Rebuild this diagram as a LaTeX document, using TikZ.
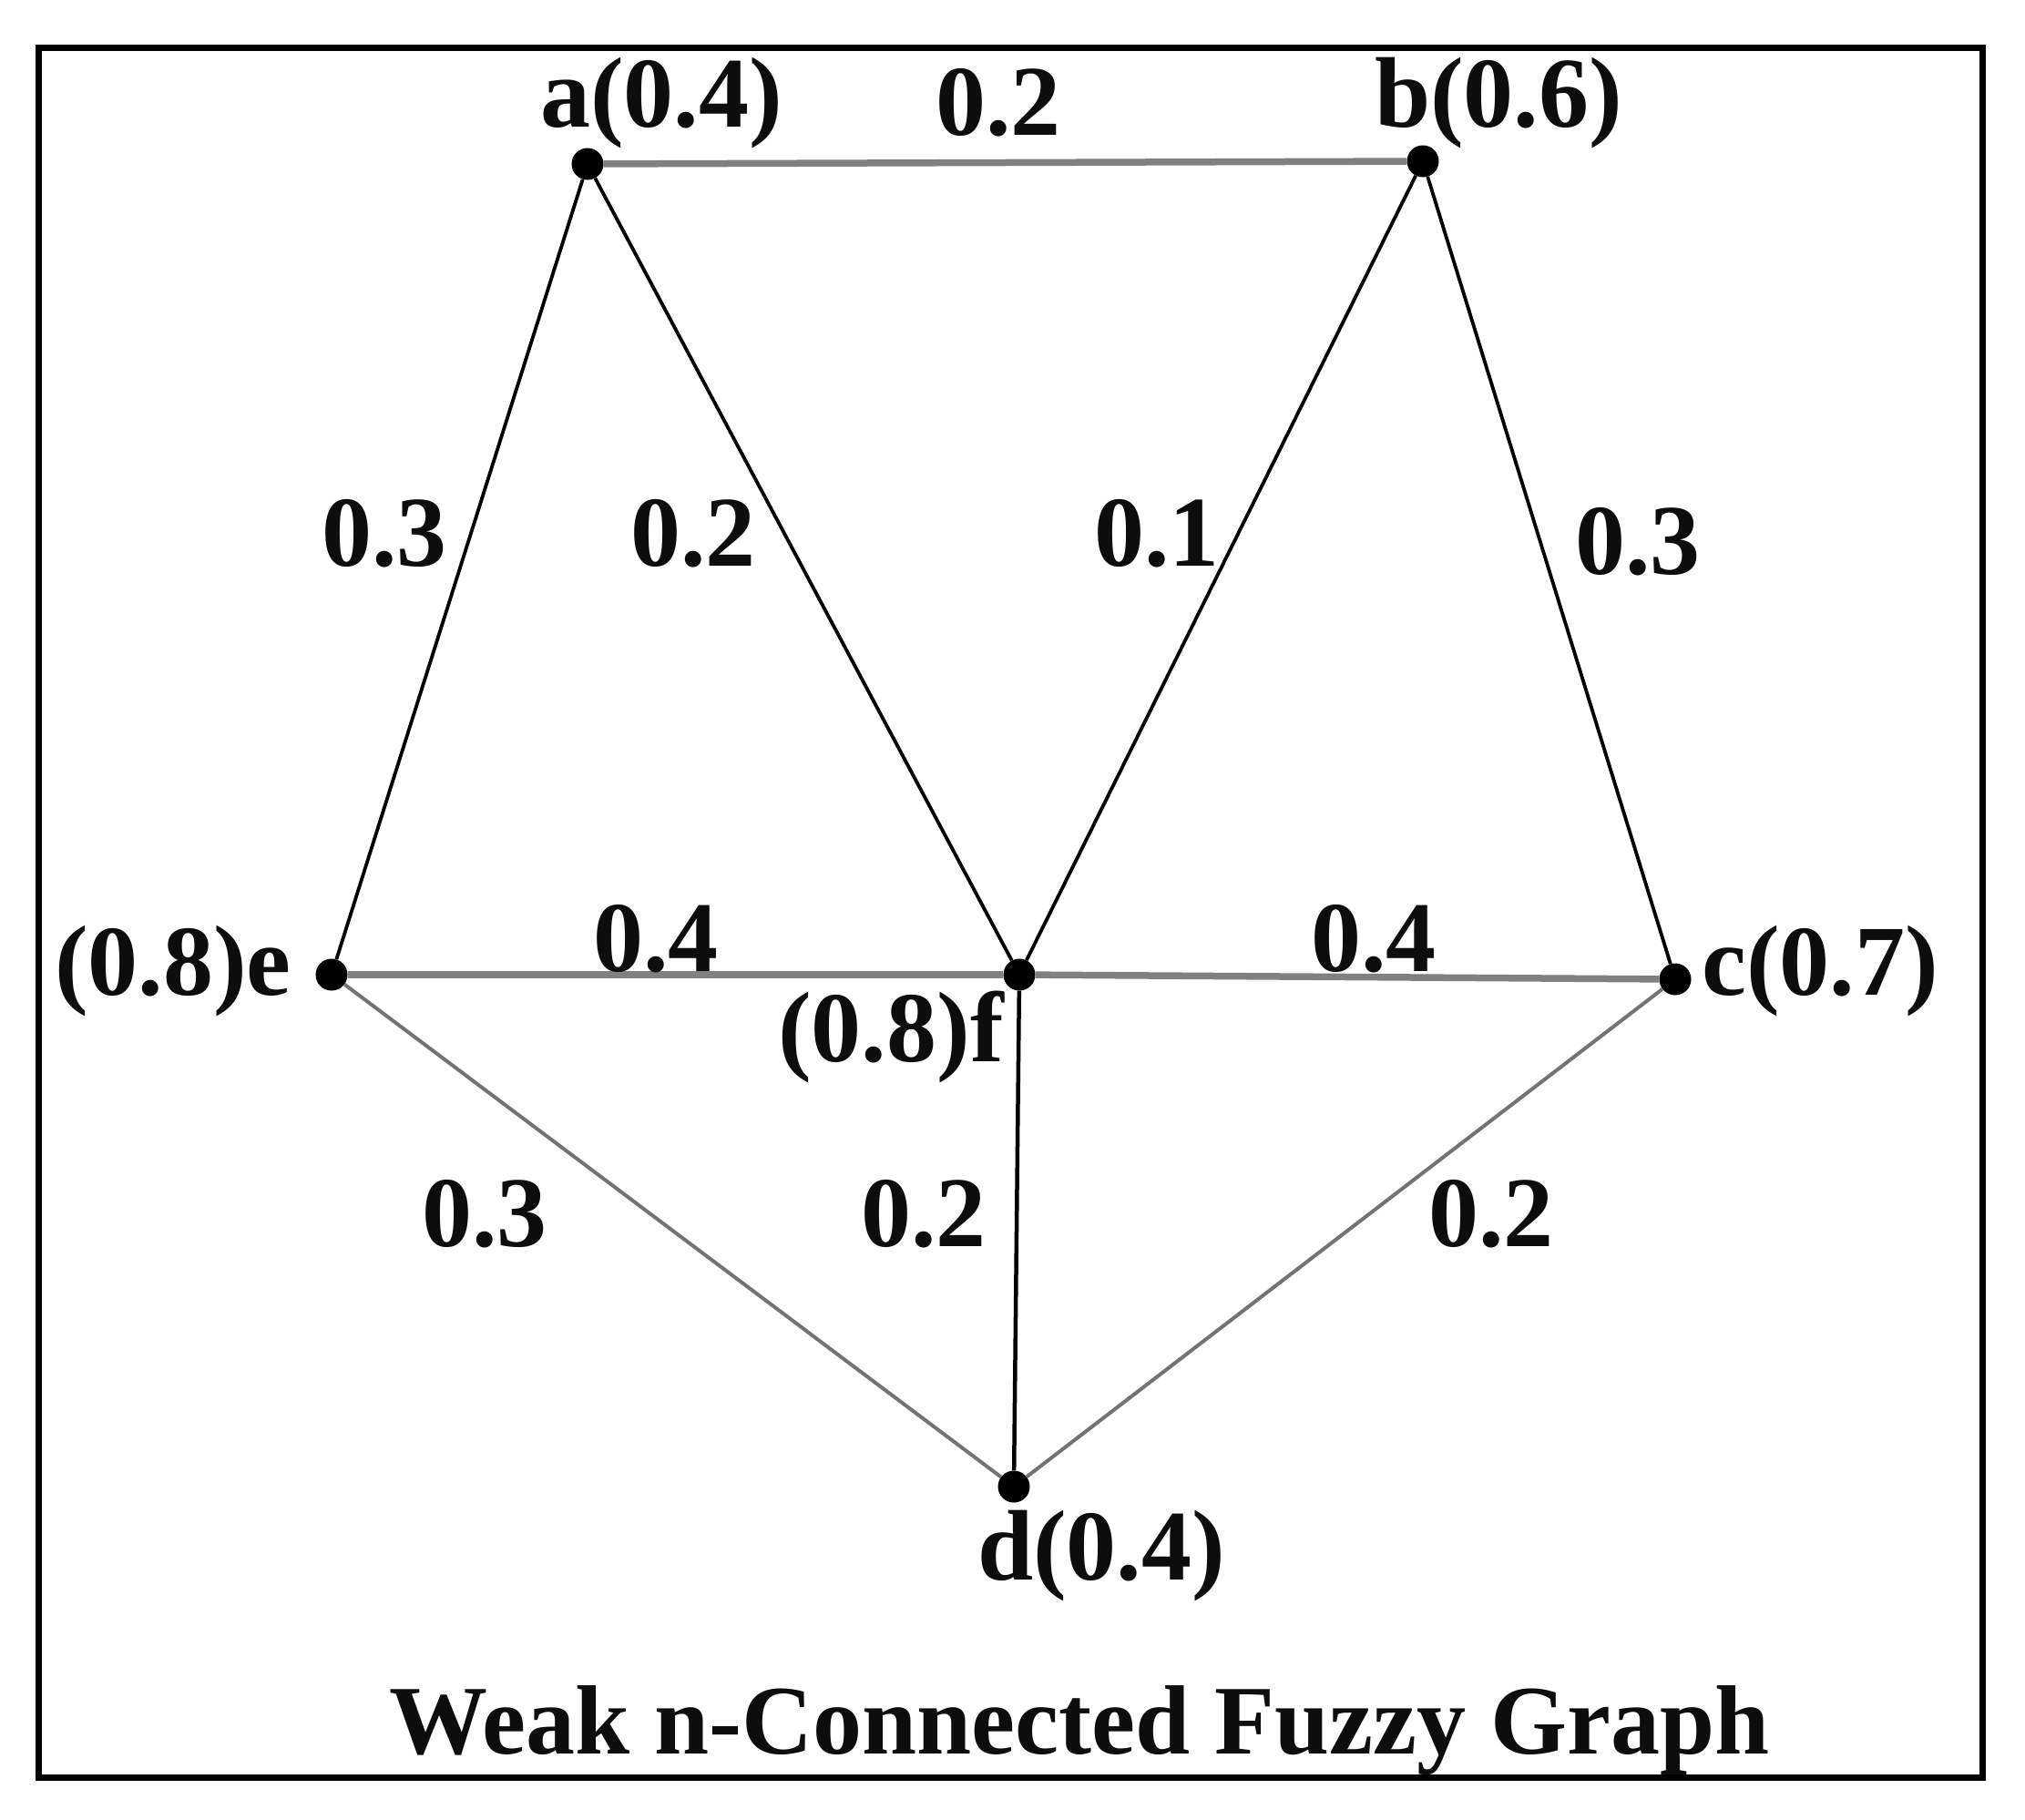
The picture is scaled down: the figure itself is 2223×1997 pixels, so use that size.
\documentclass[tikz,border=0pt]{standalone}
\usepackage{fontspec}
\setmainfont{Liberation Serif}
\begin{document}
\begin{tikzpicture}[x=1pt,y=-1pt,
  vtx/.style={circle,fill=black,inner sep=0pt,minimum width=33pt,minimum height=35pt},
  lbl/.style={inner sep=0pt,font=\fontsize{110}{120}\selectfont\bfseries,text=black!95},
  ttl/.style={inner sep=0pt,font=\fontsize{108}{118}\selectfont\bfseries,text=black!95},
  thickgray/.style={draw=black!50,line width=7.5pt},
  thingray/.style={draw=black!55,line width=4pt},
  thinblack/.style={draw=black,line width=3.8pt}]
\useasboundingbox (0,0) rectangle (2223,1997);
\fill[white] (0,0) rectangle (2223,1997);
\draw[line width=7pt] (42,52) rectangle (2176,1951);
% vertices
\node[vtx] (a) at (645,180) {};
\node[vtx] (b) at (1562,177) {};
\node[vtx] (e) at (364,1070) {};
\node[vtx] (f) at (1119,1070) {};
\node[vtx] (c) at (1839,1075) {};
\node[vtx] (d) at (1113,1632) {};
% edges
\draw[thickgray] (a) -- (b);
\draw[thickgray] (e) -- (f);
\draw[thickgray] (f) -- (c);
\draw[thingray] (e) -- (d);
\draw[thingray] (d) -- (c);
\draw[thinblack] (a) -- (e);
\draw[thinblack] (a) -- (f);
\draw[thinblack] (b) -- (f);
\draw[thinblack] (b) -- (c);
\draw[thinblack,line width=4.5pt] (f) -- (d);
% vertex labels
\node[lbl] (la) at (726,113) {a(0.4)};
\node[lbl] (lb) at (1645,113) {b(0.6)};
\node[lbl,anchor=east] (le) at (320,1066) {(0.8)e};
\node[lbl,anchor=west] (lc) at (1868,1066) {c(0.7)};
\node[lbl] (lf) at (978,1138) {(0.8)f};
\node[lbl] (ld) at (1209,1708) {d(0.4)};
% edge labels
\node[lbl] (wab) at (1096,113) {0.2};
\node[lbl] (wae) at (422,586) {0.3};
\node[lbl] (waf) at (761,586) {0.2};
\node[lbl] (wbf) at (1270,586) {0.1};
\node[lbl] (wbc) at (1798,595) {0.3};
\node[lbl] (wef) at (720,1031) {0.4};
\node[lbl] (wfc) at (1508,1031) {0.4};
\node[lbl] (wed) at (532,1333) {0.3};
\node[lbl] (wfd) at (1014,1333) {0.2};
\node[lbl] (wdc) at (1637,1333) {0.2};
% title
\node[ttl] (title) at (1185,1900) {Weak n-Connected Fuzzy Graph};
\end{tikzpicture}
\end{document}
